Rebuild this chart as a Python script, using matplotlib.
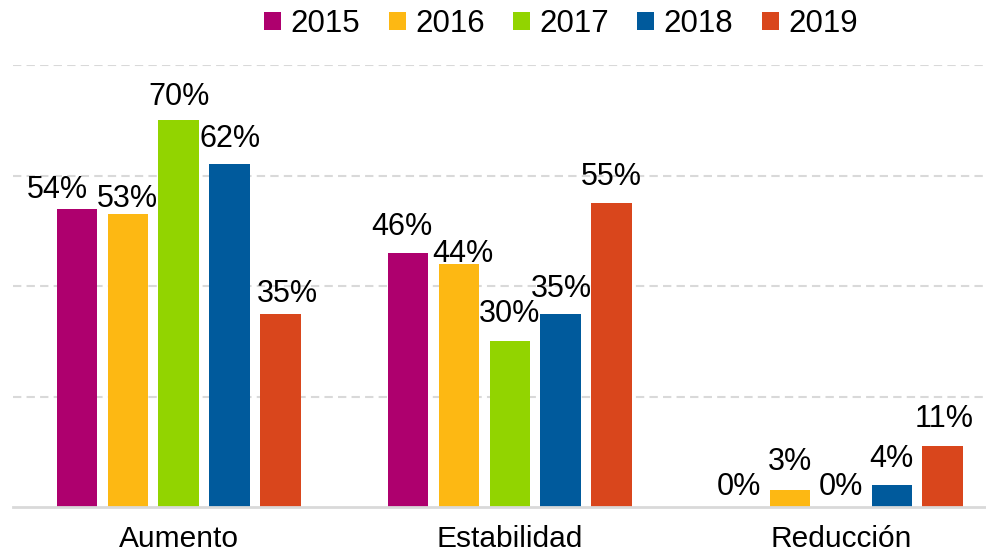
import matplotlib.pyplot as plt
import numpy as np

plt.rcParams['font.family'] = ['Liberation Sans', 'DejaVu Sans']

categorias = ["Aumento", "Estabilidad", "Reducción"]
anos = ["2015", "2016", "2017", "2018", "2019"]
v2015 = [54, 46, 0]
v2016 = [53, 44, 3]
v2017 = [70, 30, 0]
v2018 = [62, 35, 4]
v2019 = [35, 55, 11]
series = [v2015, v2016, v2017, v2018, v2019]

cores = ["#AE006E", "#FDB813", "#92D400", "#005A9C", "#D9461C"]

# ajustes manuais das etiquetas (pixels: dx, gap acima da barra)
ajuste = [
    [(-19, 11), (-6, 18), (0, 12)],
    [(0, 7), (4, 2), (0, 20)],
    [(0, 15), (0, 19), (0, 12)],
    [(1, 17), (1, 17), (0, 18)],
    [(7, 12), (0, 18), (1, 19)],
]

fig = plt.figure(figsize=(9.86, 5.55), dpi=100)
ax = fig.add_axes([13 / 986, 48 / 555, 1 - 13 / 986, 442 / 555])

x = np.arange(len(categorias))
passo = 0.1536
largura = 0.122

for i in range(len(series)):
    pos = x + (i - 2) * passo
    ax.bar(pos, series[i], largura, color=cores[i], label=anos[i], zorder=3)
    for j in range(len(categorias)):
        dx, dy = ajuste[i][j]
        ax.annotate(str(series[i][j]) + "%", (pos[j], series[i][j]),
                    xytext=(dx, dy), textcoords='offset pixels',
                    ha='center', va='baseline', fontsize=22, zorder=4)

ax.set_ylim(0, 80)
ax.set_xlim(-0.5, 2.438)
ax.set_yticks([20, 40, 60, 80])
ax.yaxis.grid(True, linestyle=(0, (4, 2.5)), color='#d9d9d9', linewidth=1.5, zorder=0)
ax.set_yticklabels([])
ax.tick_params(axis='y', length=0)
ax.set_xticks(x)
ax.set_xticklabels(categorias, fontsize=21.5)
ax.tick_params(axis='x', length=0, pad=13)
for s in ['top', 'right', 'left']:
    ax.spines[s].set_visible(False)
ax.spines['bottom'].set_color('#d9d9d9')
ax.spines['bottom'].set_linewidth(2)
ax.spines['bottom'].set_zorder(5)

ax.legend(ncol=5, frameon=False, fontsize=22.5, loc='center',
          bbox_to_anchor=(561 / 986, 1 - 24 / 555), bbox_transform=fig.transFigure,
          handlelength=0.55, handleheight=0.5, handletextpad=0.3, columnspacing=0.9)

plt.savefig("out.png", dpi=100)
